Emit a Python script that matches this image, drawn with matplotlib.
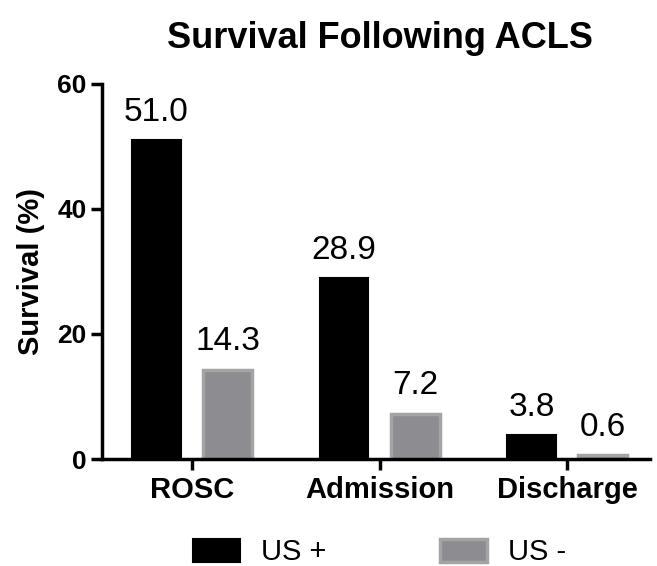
import numpy as np
import matplotlib.pyplot as plt

plt.rcParams['font.family'] = ['Liberation Sans', 'DejaVu Sans']

categories = ["ROSC", "Admission", "Discharge"]
us_pos = [51.0, 28.9, 3.8]
us_neg = [14.3, 7.2, 0.6]
labels_pos = ["51.0", "28.9", "3.8"]
labels_neg = ["14.3", "7.2", "0.6"]

fig = plt.figure(figsize=(6.57, 5.66), dpi=100)
ax = fig.add_axes([0.155, 0.189, 0.834, 0.663])

x = np.arange(len(categories))
w = 0.26
off = 0.19
b1 = ax.bar(x - off, us_pos, w, color='black', edgecolor='black', linewidth=1.5, label='US +')
b2 = ax.bar(x + off, us_neg, w, color='#8d8d91', edgecolor='#a4a4a6', linewidth=2.5, label='US -')

# value labels above each bar
for xi, v, t in zip(x - off, us_pos, labels_pos):
    ax.text(xi, v + 2, t, ha='center', va='bottom', fontsize=24)
for xi, v, t in zip(x + off, us_neg, labels_neg):
    ax.text(xi, v + 2, t, ha='center', va='bottom', fontsize=24)

ax.set_xlim(-0.48, 2.44)
ax.set_ylim(0, 60)
ax.set_yticks([0, 20, 40, 60])
ax.set_xticks(x)
ax.set_xticklabels(categories, fontsize=21, fontweight='bold')
ax.tick_params(axis='y', labelsize=19, width=2.5, length=8, pad=3)
ax.tick_params(axis='x', width=2.5, length=8, pad=4)
for lab in ax.get_yticklabels():
    lab.set_fontweight('bold')
ax.spines['top'].set_visible(False)
ax.spines['right'].set_visible(False)
ax.spines['left'].set_linewidth(2.5)
ax.spines['bottom'].set_linewidth(2.5)

ax.set_ylabel('Survival (%)', fontsize=21, fontweight='bold', labelpad=9)
fig.text(0.578, 0.932, 'Survival Following ACLS', ha='center', va='center',
         fontsize=26, fontweight='bold')

fig.legend(handles=[b1, b2], loc='lower center', bbox_to_anchor=(0.578, -0.047), ncol=2,
           frameon=False, fontsize=21, handlelength=1.6, handleheight=0.86, columnspacing=3.9,
           handletextpad=0.72)

fig.savefig('out.png', dpi=100)
